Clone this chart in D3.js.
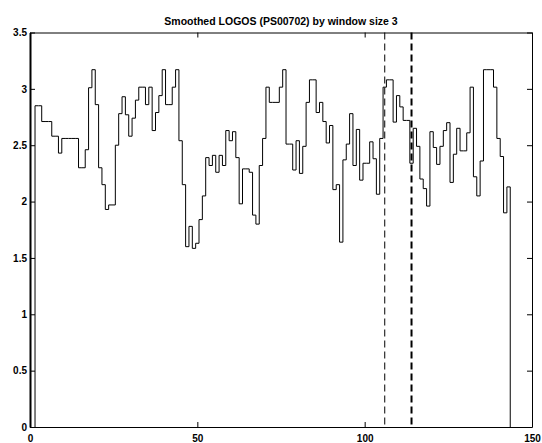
<!DOCTYPE html>
<html>
<head>
<meta charset="utf-8">
<title>Smoothed LOGOS</title>
<script src="https://cdn.jsdelivr.net/npm/d3@7"></script>
<style>
  body { margin: 0; background: #fff; }
  svg text { font-family: "Liberation Sans", Arial, sans-serif; font-weight: bold; }
</style>
</head>
<body>
<script>
// smoothed score, one value per sequence position (2..143)
var firstPos = 2
var scores = [
  2.85, 2.85, 2.71, 2.71, 2.71, 2.58, 2.58, 2.43, 2.56, 2.56,
  2.56, 2.56, 2.56, 2.30, 2.30, 2.46, 3.01, 3.17, 2.86, 2.30,
  2.15, 1.93, 1.97, 1.97, 2.50, 2.78, 2.93, 2.77, 2.58, 2.74,
  2.90, 3.015, 3.015, 2.86, 3.015, 2.63, 2.79, 2.94, 3.17, 2.86,
  2.86, 3.015, 3.17, 2.54, 2.15, 1.60, 1.78, 1.585, 1.63, 1.84,
  2.05, 2.39, 2.32, 2.41, 2.26, 2.41, 2.32, 2.63, 2.54, 2.62,
  2.39, 1.98, 2.29, 2.29, 2.26, 1.88, 1.80, 2.32, 2.56, 3.015,
  2.88, 2.88, 2.88, 3.015, 3.17, 2.51, 2.51, 2.28, 2.54, 2.25,
  2.49, 2.88, 3.08, 3.08, 2.79, 2.88, 2.71, 2.52, 2.675, 2.106,
  2.15, 1.64, 2.37, 2.51, 2.78, 2.32, 2.64, 2.19, 2.34, 2.34,
  2.53, 2.38, 2.065, 2.56, 3.015, 3.08, 3.08, 2.705, 2.94, 2.84,
  2.72, 2.72, 2.34, 2.65, 2.49, 2.20, 2.115, 1.96, 2.62, 2.48,
  2.33, 2.49, 2.63, 2.70, 2.17, 2.42, 2.65, 2.45, 2.45, 2.61,
  3.015, 2.22, 2.05, 2.36, 3.17, 3.17, 3.17, 3.015, 2.56, 2.40,
  1.90, 2.13
]
var markers = [106, 114]   // thin, thick dashed
var xTicks = [0, 50, 100, 150]
var yTicks = [0, 0.5, 1, 1.5, 2, 2.5, 3, 3.5]
var title = 'Smoothed LOGOS (PS00702) by window size 3'

var W = 542, H = 443
var margin = { top: 32.5, right: 10, bottom: 16, left: 30 }
var w = W - margin.left - margin.right
var h = H - margin.top - margin.bottom

var x = d3.scaleLinear().domain([0, 150]).range([0, w])
var y = d3.scaleLinear().domain([0, 3.5]).range([h, 0])

var svg = d3.select('body').append('svg')
    .attr('width', W)
    .attr('height', H)

svg.append('text')
    .attr('x', margin.left + w / 2)
    .attr('y', 25)
    .attr('text-anchor', 'middle')
    .style('font-size', '10.5px')
    .text(title)

var g = svg.append('g')
    .attr('transform', 'translate(' + margin.left + ',' + margin.top + ')')

// stair points: step i covers [pos-0.5, pos+0.5]
var pts = [[firstPos - 0.5, 0]]
scores.forEach(function (v, i) { pts.push([firstPos + i - 0.5, v]) })
pts.push([firstPos + scores.length - 0.5, scores[scores.length - 1]])
pts.push([firstPos + scores.length - 0.5, 0])

var line = d3.line()
    .x(function (d) { return x(d[0]) })
    .y(function (d) { return y(d[1]) })
    .curve(d3.curveStepAfter)

g.append('path')
    .datum(pts)
    .attr('fill', 'none')
    .attr('stroke', '#000')
    .attr('stroke-width', 1)
    .attr('d', line)

// dashed markers
g.selectAll('.marker')
    .data(markers)
    .enter()
    .append('line')
    .attr('class', 'marker')
    .attr('x1', function (d) { return x(d) })
    .attr('x2', function (d) { return x(d) })
    .attr('y1', 0)
    .attr('y2', h)
    .attr('stroke', '#000')
    .attr('stroke-width', function (d, i) { return i === 0 ? 1 : 2 })
    .attr('stroke-dasharray', '7,4')

// axes, matlab style: ticks inside on all four sides
var tickLen = 5
var fmt = d3.format('~g')
g.append('g')
    .attr('transform', 'translate(0,' + h + ')')
    .call(d3.axisBottom(x).tickValues(xTicks).tickSizeInner(-tickLen).tickSizeOuter(0).tickPadding(8).tickFormat(fmt))
g.append('g')
    .call(d3.axisTop(x).tickValues(xTicks).tickSizeInner(-tickLen).tickSizeOuter(0).tickFormat(''))
var yAxisG = g.append('g')
    .call(d3.axisLeft(y).tickValues(yTicks).tickSizeInner(-tickLen).tickSizeOuter(0).tickPadding(3).tickFormat(fmt))
g.append('g')
    .attr('transform', 'translate(' + w + ',0)')
    .call(d3.axisRight(y).tickValues(yTicks).tickSizeInner(-tickLen).tickSizeOuter(0).tickFormat(''))

g.selectAll('.domain').attr('stroke', '#000')
yAxisG.select('.domain').attr('stroke-width', 2)
g.selectAll('.tick line').attr('stroke', '#000')
g.selectAll('.tick text').style('font-size', '10px').attr('fill', '#000')
</script>
</body>
</html>
